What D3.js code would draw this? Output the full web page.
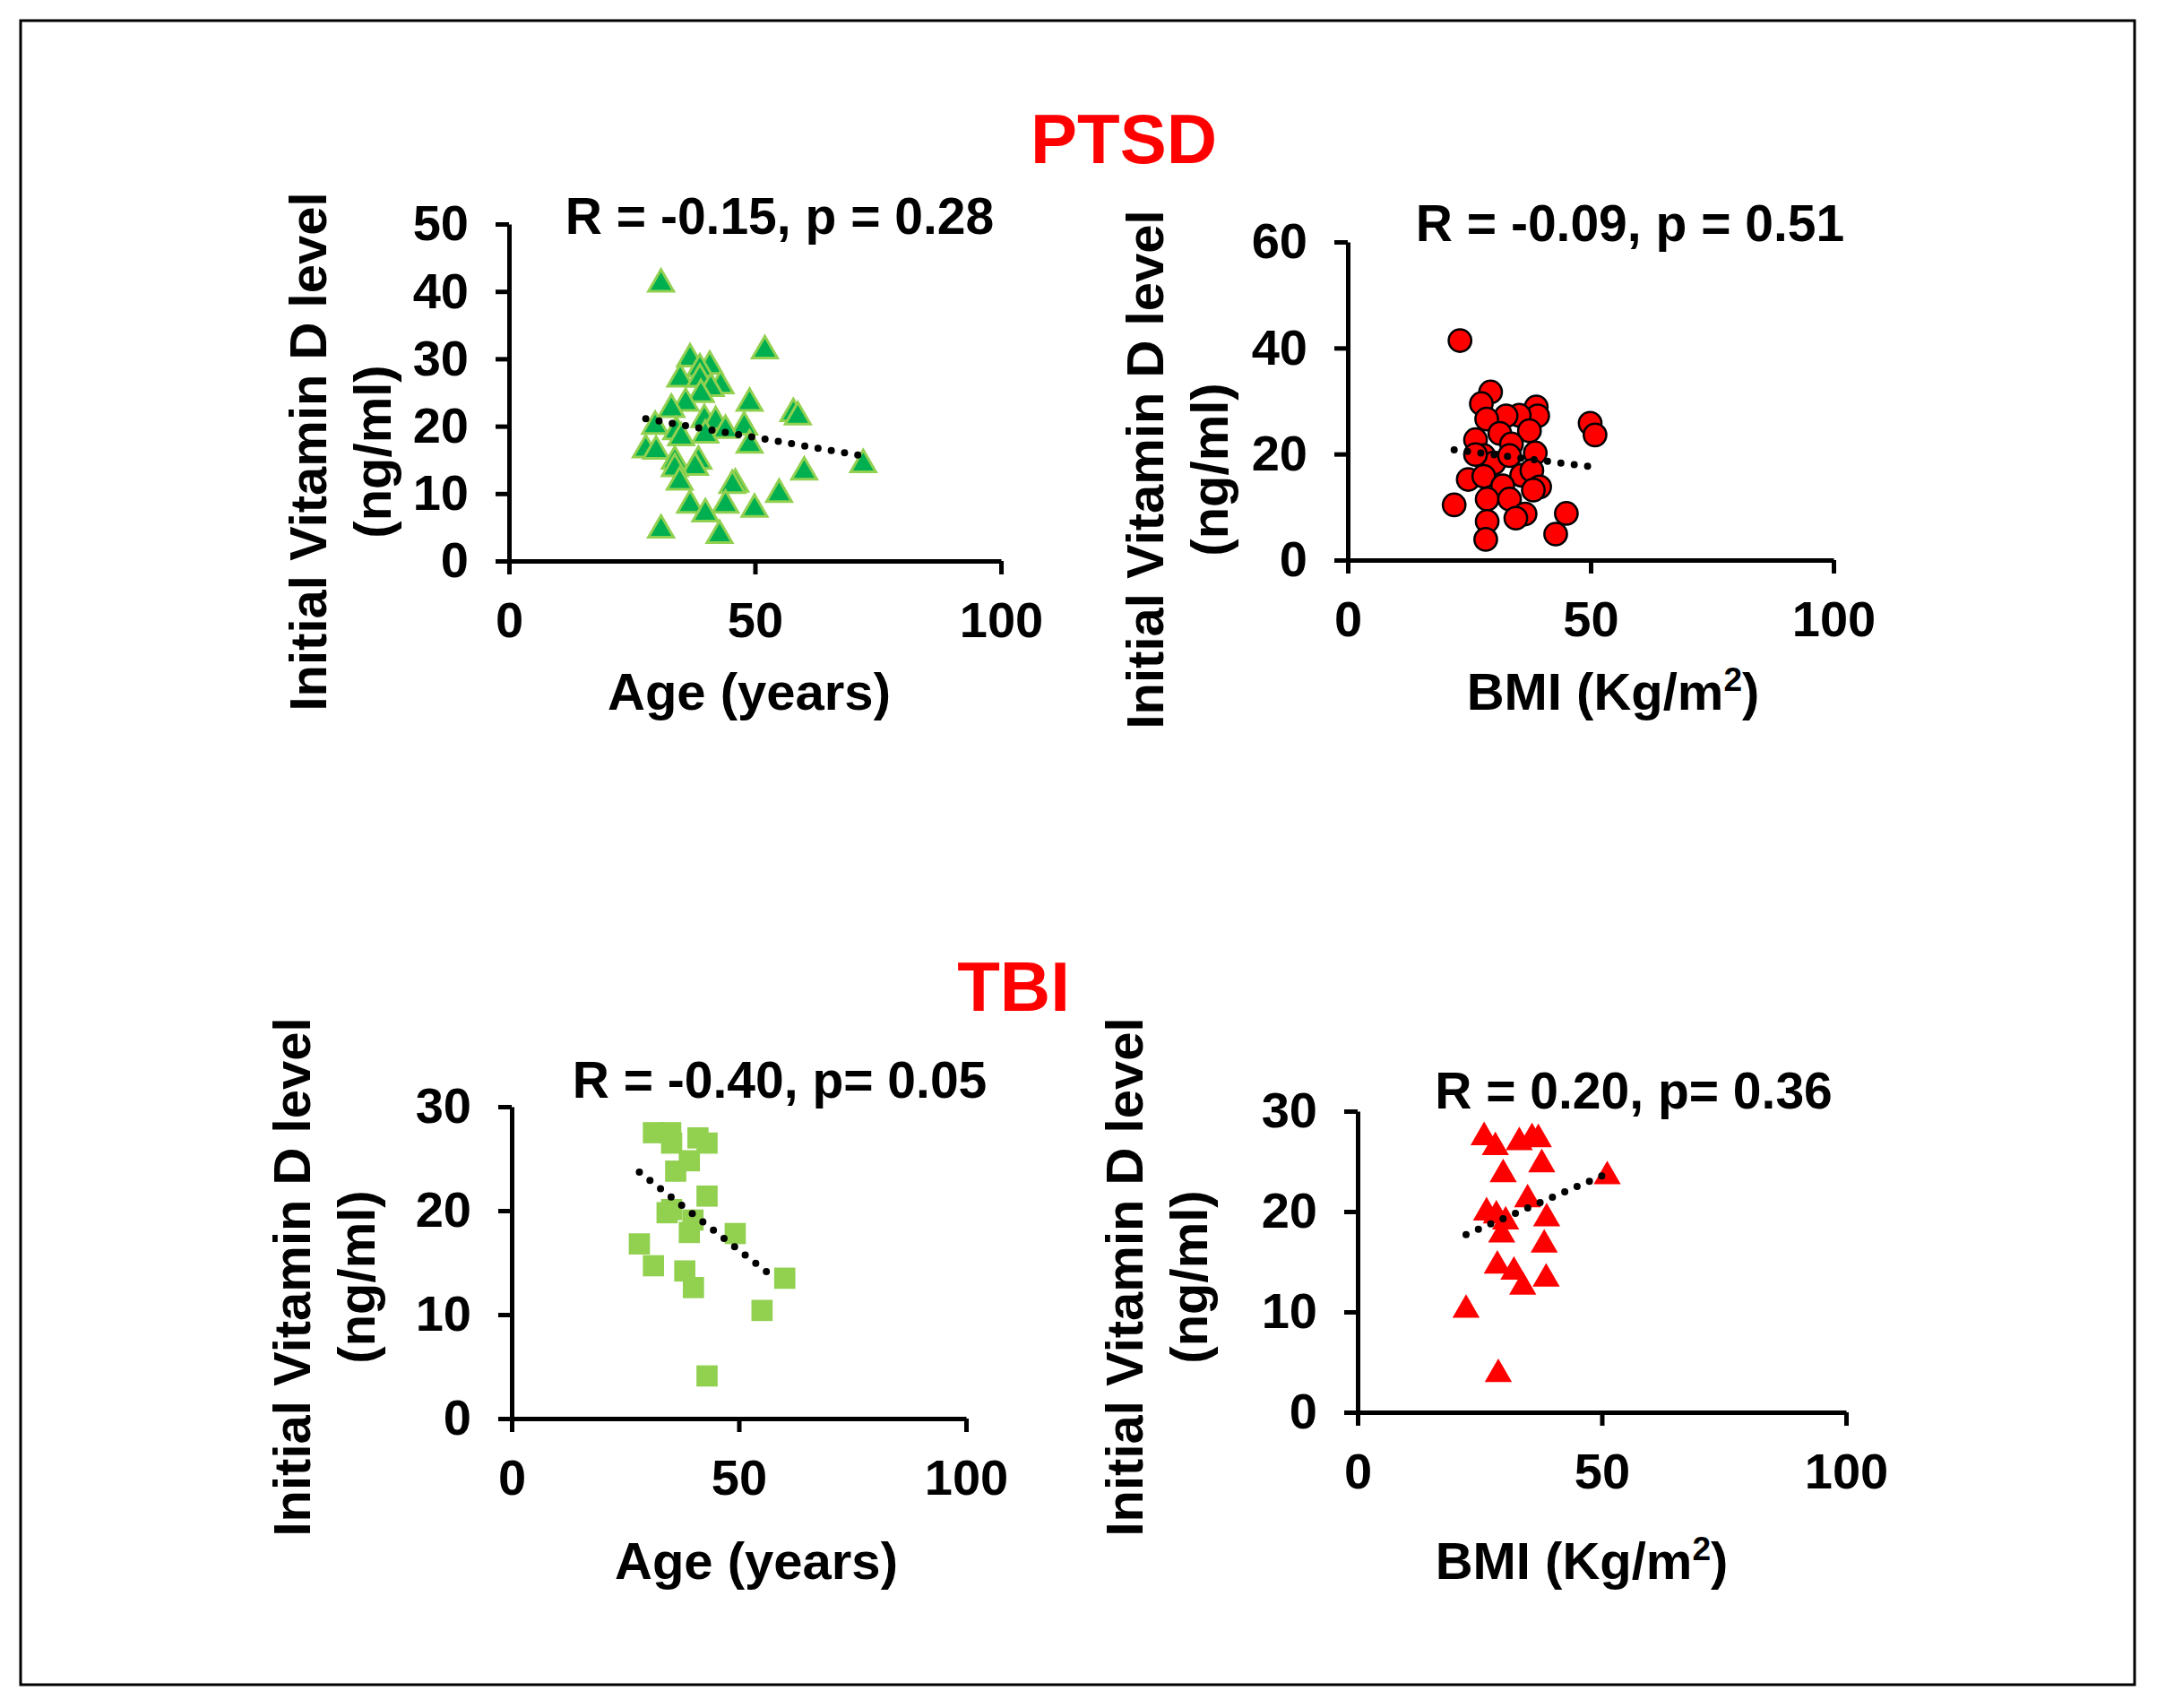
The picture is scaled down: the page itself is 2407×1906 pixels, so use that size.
<!DOCTYPE html>
<html>
<head>
<meta charset="utf-8">
<script src="https://cdn.jsdelivr.net/npm/d3@7"></script>
<style>
  body { margin: 0; background: #fff; }
  text { font-family: Arial, "Liberation Sans", sans-serif; font-weight: bold; }
</style>
</head>
<body>
<svg id="chart" width="2407" height="1906"></svg>
<script>
// PTSD - age vs vitamin D
const ptsdAgeX = [30.9, 52, 36.8, 40.8, 38.8, 34.8, 38.8, 43, 41, 39, 35.9, 48.9, 33, 57.8, 58.7, 39.7, 42, 29.7, 47.8, 44, 34, 39.9, 35, 48.9, 27.8, 29.9, 33.7, 38.5, 37.8, 33.7, 72, 60, 34.7, 46, 45.4, 54.9, 36.8, 44, 39.9, 49.9, 30.9, 42.8];
const ptsdAgeY = [41.1, 31.2, 30, 28.9, 28.5, 27, 27, 26, 25.6, 24.7, 23.4, 23.4, 22.5, 21.9, 21.4, 21, 20.7, 20, 19.9, 19.4, 19.2, 18.7, 18.3, 17.2, 16.5, 16.3, 14.8, 14.8, 13.9, 13.7, 14.3, 13.2, 11.7, 11.4, 11.2, 9.9, 8.3, 8.3, 7, 7.7, 4.6, 3.8];
const ptsdAgeTrend = [[27.8, 21.1], [71.9, 15.6]];

// PTSD - BMI vs vitamin D
const ptsdBmiX = [23.1, 29.4, 27.5, 38.8, 39.1, 35.3, 32.6, 28.6, 49.9, 50.9, 37.4, 26.3, 31.3, 33.7, 38.6, 28, 30.1, 33.3, 26.3, 35.8, 37.9, 24.8, 28, 31.9, 39.5, 38.2, 28.7, 33.3, 21.9, 45, 36.5, 34.6, 28.7, 42.8, 28.4];
const ptsdBmiY = [41.4, 31.7, 29.5, 28.9, 27.2, 27.3, 27.2, 26.6, 25.8, 23.6, 24.4, 22.7, 23.9, 21.9, 20.2, 19.7, 18.3, 19.7, 19.9, 16, 16.9, 15.2, 15.8, 14, 13.8, 13.2, 11.5, 11.5, 10.4, 8.8, 8.7, 7.9, 7.3, 4.9, 3.9];
const ptsdBmiTrend = [[21.9, 20.8], [50.1, 17.6]];

// TBI - age vs vitamin D
const tbiAgeX = [31.2, 35, 35.2, 41, 43, 39.1, 36.1, 43, 35.2, 34.2, 39.9, 39.1, 49.2, 28.1, 31.2, 38.1, 40, 60.1, 55.1, 43];
const tbiAgeY = [27.5, 27.5, 26.5, 27, 26.5, 24.8, 23.8, 21.4, 20.1, 19.8, 19.1, 17.9, 17.8, 16.8, 14.7, 14.2, 12.6, 13.5, 10.4, 4.1];
const tbiAgeTrend = [[28.1, 23.7], [57.6, 13.6]];

// TBI - BMI vs vitamin D
const tbiBmiX = [25.9, 28.2, 33.1, 35.7, 37, 37.7, 29.8, 51.1, 34.8, 26.4, 28.4, 30.3, 38.7, 29.5, 38.2, 28.6, 32, 33.8, 38.6, 22.2, 28.8];
const tbiBmiY = [27.4, 26.4, 26.9, 27.3, 27.2, 24.7, 23.7, 23.5, 21.2, 19.9, 19.6, 19, 19.3, 17.7, 16.7, 14.6, 14, 12.5, 13.3, 10.2, 3.8];
const tbiBmiTrend = [[22.2, 17.7], [50.2, 23.6]];

const xTicks = [0, 50, 100];
const svg = d3.select('#chart');

// cadre
svg.append('rect').attr('x', 23).attr('y', 23).attr('width', 2359).attr('height', 1857)
  .attr('fill', 'none').attr('stroke', '#000').attr('stroke-width', 3);

svg.append('text').attr('x', 1254).attr('y', 182).attr('text-anchor', 'middle')
  .attr('font-size', 78).attr('fill', '#ff0000').text('PTSD');
svg.append('text').attr('x', 1131).attr('y', 1128).attr('text-anchor', 'middle')
  .attr('font-size', 78).attr('fill', '#ff0000').text('TBI');

const drawPanel = (p) => {
  const x = d3.scaleLinear().domain([0, 100]).range([p.x0, p.x1]);
  const y = d3.scaleLinear().domain([0, p.yMax]).range([p.y0, p.y1]);
  const g = svg.append('g');

  const ax = g.append('g').attr('transform', `translate(0,${p.y0})`)
    .call(d3.axisBottom(x).tickValues(xTicks).tickSize(15).tickSizeOuter(0).tickPadding(30));
  const ay = g.append('g').attr('transform', `translate(${p.x0},0)`)
    .call(d3.axisLeft(y).tickValues(p.yTicks).tickSize(15).tickSizeOuter(0).tickPadding(30));
  [ax, ay].forEach((a) => {
    a.selectAll('path, line').attr('stroke', '#000').attr('stroke-width', 5);
    a.selectAll('text').attr('font-size', 56).attr('fill', '#000')
      .style('font-family', 'Arial, "Liberation Sans", sans-serif').style('font-weight', 'bold');
  });

  // marqueurs
  const pts = p.xs.map((v, i) => [v, p.ys[i]]);
  const sym = g.selectAll('.m').data(pts).enter().append('path')
    .attr('transform', (d) => `translate(${x(d[0])},${y(d[1])})`)
    .attr('d', d3.symbol().type(p.symbol).size(p.size)())
    .attr('fill', p.fill);
  if (p.stroke) sym.attr('stroke', p.stroke).attr('stroke-width', p.strokeWidth);

  // tendance
  g.append('line')
    .attr('x1', x(p.trend[0][0])).attr('y1', y(p.trend[0][1]))
    .attr('x2', x(p.trend[1][0])).attr('y2', y(p.trend[1][1]))
    .attr('stroke', '#000').attr('stroke-width', 8).attr('stroke-linecap', 'round')
    .attr('stroke-dasharray', '0,15');

  g.append('text').attr('x', p.statX).attr('y', p.statY).attr('text-anchor', 'middle')
    .attr('font-size', 57).text(p.stat);

  const xt = g.append('text').attr('x', p.xtX).attr('y', p.xtY).attr('text-anchor', 'middle')
    .attr('font-size', 58);
  xt.append('tspan').text(p.xTitle);
  if (p.sup) {
    xt.append('tspan').attr('font-size', 37).attr('dy', -21).text('2');
    xt.append('tspan').attr('dy', 21).text(')');
  }

  g.append('text').attr('transform', `translate(${p.ytX},${p.ytY}) rotate(-90)`)
    .attr('text-anchor', 'middle').attr('font-size', 58).text('Initial Vitamin D level');
  g.append('text').attr('transform', `translate(${p.ytX + 72},${p.ytY}) rotate(-90)`)
    .attr('text-anchor', 'middle').attr('font-size', 58).text('(ng/ml)');
};

drawPanel({ x0: 568, x1: 1117, y0: 626, y1: 250, yMax: 50, yTicks: [0, 10, 20, 30, 40, 50],
  xs: ptsdAgeX, ys: ptsdAgeY, trend: ptsdAgeTrend, symbol: d3.symbolTriangle, size: 340,
  fill: '#00b050', stroke: '#92d050', strokeWidth: 3,
  stat: 'R = -0.15, p = 0.28', statX: 870, statY: 261, xTitle: 'Age (years)', xtX: 836, xtY: 792, ytX: 364, ytY: 504 });

drawPanel({ x0: 1504, x1: 2046, y0: 625, y1: 270, yMax: 60, yTicks: [0, 20, 40, 60],
  xs: ptsdBmiX, ys: ptsdBmiY, trend: ptsdBmiTrend, symbol: d3.symbolCircle, size: 500,
  fill: '#ff0000', stroke: '#000', strokeWidth: 2.5,
  stat: 'R = -0.09, p = 0.51', statX: 1819, statY: 269, xTitle: 'BMI (Kg/m', sup: true, xtX: 1800, xtY: 792, ytX: 1298, ytY: 524 });

drawPanel({ x0: 571, x1: 1078, y0: 1583, y1: 1235, yMax: 30, yTicks: [0, 10, 20, 30],
  xs: tbiAgeX, ys: tbiAgeY, trend: tbiAgeTrend, symbol: d3.symbolSquare, size: 560,
  fill: '#92d050',
  stat: 'R = -0.40, p= 0.05', statX: 870, statY: 1225, xTitle: 'Age (years)', xtX: 844, xtY: 1762, ytX: 346, ytY: 1425 });

drawPanel({ x0: 1515, x1: 2060, y0: 1576, y1: 1240, yMax: 30, yTicks: [0, 10, 20, 30],
  xs: tbiBmiX, ys: tbiBmiY, trend: tbiBmiTrend, symbol: d3.symbolTriangle, size: 400,
  fill: '#ff0000',
  stat: 'R = 0.20, p= 0.36', statX: 1823, statY: 1237, xTitle: 'BMI (Kg/m', sup: true, xtX: 1765, xtY: 1762, ytX: 1275, ytY: 1425 });
</script>
</body>
</html>
